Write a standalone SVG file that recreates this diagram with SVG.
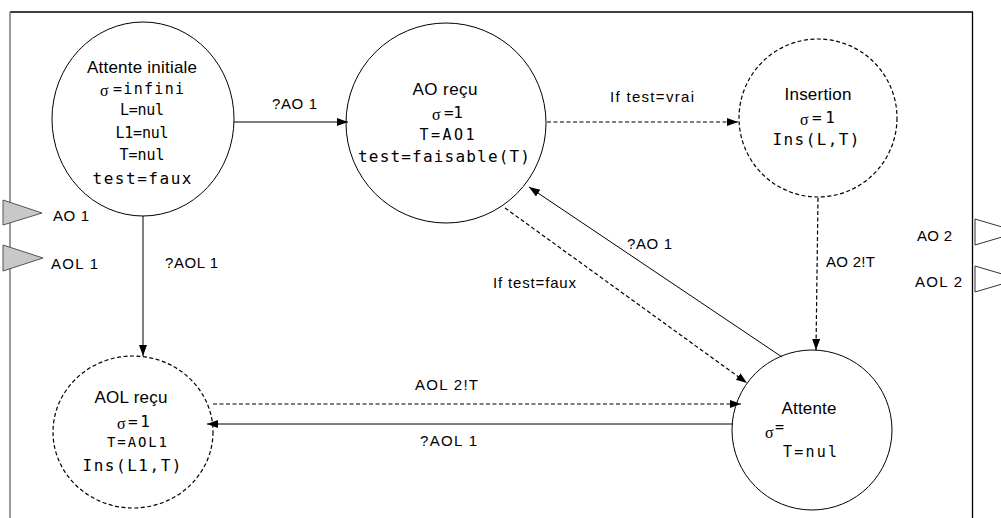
<svg xmlns="http://www.w3.org/2000/svg" width="1001" height="518" viewBox="0 0 1001 518">
<style>
.st{fill:none;stroke:#000;stroke-width:1}
.ds{fill:none;stroke:#000;stroke-width:1.2;stroke-dasharray:4 2.5}
.sans{font-family:"Liberation Sans",Arial,sans-serif;font-size:17px;fill:#000}
.lab{font-family:"Liberation Sans",Arial,sans-serif;font-size:15px;fill:#000}
.mono{font-family:"DejaVu Sans Mono","Liberation Mono",monospace;fill:#000}
.sig{font-family:"Liberation Serif","DejaVu Serif",serif;font-size:16px;fill:#000}
.mid{text-anchor:middle}
</style>
<defs>
<marker id="ah" markerUnits="userSpaceOnUse" markerWidth="12" markerHeight="10" refX="11" refY="4" orient="auto">
<path d="M0,0 L11,4 L0,8 Z" fill="#000"/>
</marker>
</defs>
<rect width="1001" height="518" fill="#fff"/>
<g id="frame">
<line x1="10" y1="12" x2="973" y2="12" stroke="#000" stroke-width="1.3"/>
<line x1="10" y1="12" x2="10" y2="518" stroke="#666" stroke-width="1.3"/>
<line x1="972.5" y1="12" x2="972.5" y2="518" stroke="#000" stroke-width="1.3"/>
</g>
<g id="ports">
<polygon points="3,200 42,213 3,225" fill="#c8c8c8" stroke="#555" stroke-width="1"/>
<polygon points="3,245 43,258 3,271" fill="#c8c8c8" stroke="#555" stroke-width="1"/>
<polygon points="975,219 1019,232 975,245" fill="#fff" stroke="#333" stroke-width="1"/>
<polygon points="975,266 1019,279 975,292" fill="#fff" stroke="#333" stroke-width="1"/>
<text class="lab" x="53" y="221" textLength="36">AO 1</text>
<text class="lab" x="51" y="269" textLength="47">AOL 1</text>
<text class="lab" x="917" y="241" textLength="35">AO 2</text>
<text class="lab" x="915" y="287" textLength="47">AOL 2</text>
</g>
<g id="connectors">
<line class="st" x1="234" y1="122" x2="348" y2="122" marker-end="url(#ah)"/>
<text class="lab" x="272" y="109" textLength="45">?AO 1</text>
<line class="ds" x1="547" y1="122" x2="738" y2="122" marker-end="url(#ah)"/>
<text class="lab" x="610" y="102" textLength="84">If test=vrai</text>
<line class="ds" x1="818" y1="198" x2="816" y2="350" marker-end="url(#ah)"/>
<text class="lab" x="826" y="267" textLength="49">AO 2!T</text>
<line class="st" x1="782" y1="357" x2="529" y2="187" marker-end="url(#ah)"/>
<text class="lab" x="627" y="249" textLength="45">?AO 1</text>
<line class="ds" x1="505" y1="208" x2="747" y2="383" marker-end="url(#ah)"/>
<text class="lab" x="493" y="288" textLength="83">If test=faux</text>
<line class="st" x1="143" y1="216" x2="143" y2="356" marker-end="url(#ah)"/>
<text class="lab" x="165" y="268" textLength="53">?AOL 1</text>
<line class="ds" x1="213" y1="404" x2="741" y2="404" marker-end="url(#ah)"/>
<text class="lab" x="415" y="390" textLength="63">AOL 2!T</text>
<line class="st" x1="733" y1="424" x2="207" y2="424" marker-end="url(#ah)"/>
<text class="lab" x="420" y="446" textLength="57">?AOL 1</text>
</g>
<g id="attente-initiale">
<ellipse class="st" cx="143" cy="119" rx="91" ry="97"/>
<text class="sans mid" x="142" y="73" textLength="110">Attente initiale</text>
<text class="sig" x="100" y="96">σ</text>
<text class="mono" x="113" y="94" font-size="15" textLength="71">=infini</text>
<text class="mono mid" x="142" y="115" font-size="15" textLength="44">L=nul</text>
<text class="mono mid" x="142" y="138" font-size="15" textLength="53">L1=nul</text>
<text class="mono mid" x="142" y="160" font-size="15" textLength="45">T=nul</text>
<text class="mono mid" x="142" y="184" font-size="16" textLength="99">test=faux</text>
</g>
<g id="ao-recu">
<circle class="st" cx="446" cy="123" r="100"/>
<text class="sans mid" x="445" y="95" textLength="65">AO reçu</text>
<text class="sig" x="432" y="120">σ</text>
<text class="mono" x="444" y="118" font-size="16" textLength="19">=1</text>
<text class="mono mid" x="447" y="140" font-size="15" textLength="55">T=AO1</text>
<text class="mono mid" x="444" y="162" font-size="16" textLength="172">test=faisable(T)</text>
</g>
<g id="insertion">
<circle class="ds" cx="818" cy="118" r="79"/>
<text class="sans mid" x="818" y="100" textLength="67">Insertion</text>
<text class="sig" x="800" y="125">σ</text>
<text class="mono" x="812" y="123" font-size="16" textLength="23">=1</text>
<text class="mono mid" x="816" y="145" font-size="16" textLength="87">Ins(L,T)</text>
</g>
<g id="aol-recu">
<ellipse class="ds" cx="133" cy="432" rx="80" ry="76"/>
<text class="sans mid" x="131" y="403" textLength="73">AOL reçu</text>
<text class="sig" x="117" y="429">σ</text>
<text class="mono" x="128" y="427" font-size="16" textLength="22">=1</text>
<text class="mono mid" x="137" y="447" font-size="14" textLength="60">T=AOL1</text>
<text class="mono mid" x="132" y="471" font-size="16" textLength="99">Ins(L1,T)</text>
</g>
<g id="attente">
<circle class="st" cx="812" cy="430" r="80"/>
<text class="sans mid" x="809" y="414" textLength="55">Attente</text>
<text class="sig" x="765" y="438">σ</text>
<text class="mono" x="775" y="432" font-size="15">=</text>
<text class="mono mid" x="810" y="457" font-size="15" textLength="54">T=nul</text>
</g>
</svg>
